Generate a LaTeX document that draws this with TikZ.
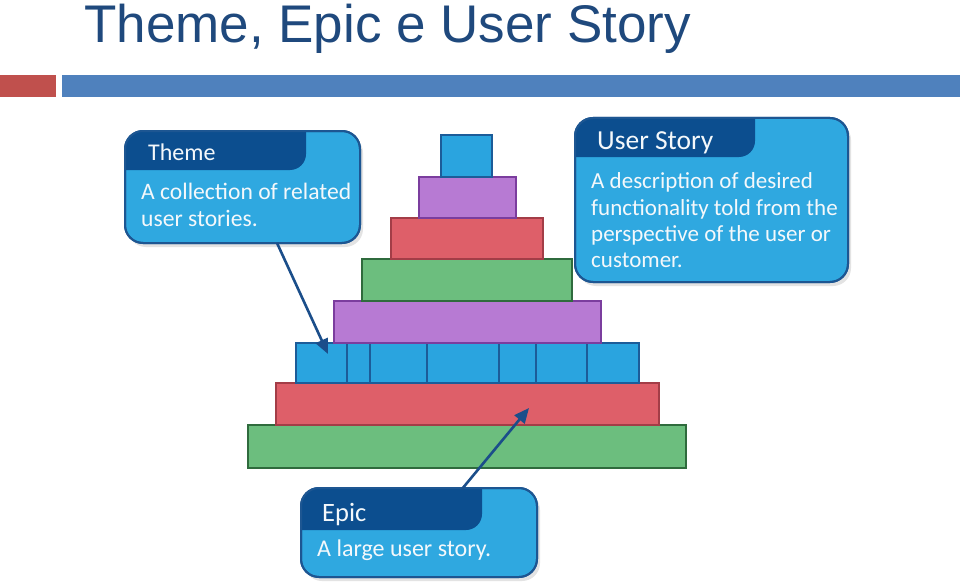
\documentclass[tikz,border=0pt]{standalone}
\usepackage{fontspec}
\setmainfont{Carlito}
\newfontfamily\titlefont{Liberation Sans}
\usetikzlibrary{arrows.meta}
\definecolor{titleblue}{HTML}{1F497D}
\definecolor{redsq}{HTML}{C0504D}
\definecolor{bluebar}{HTML}{4F81BD}
\definecolor{pblue}{HTML}{2AA4DF}
\definecolor{pblueD}{HTML}{1C5C99}
\definecolor{ppurple}{HTML}{B77AD3}
\definecolor{ppurpleD}{HTML}{7B3D9E}
\definecolor{pred}{HTML}{DE5F69}
\definecolor{predD}{HTML}{A33D47}
\definecolor{pgreen}{HTML}{6CBE7E}
\definecolor{pgreenD}{HTML}{2F6B3D}
\definecolor{cfill}{HTML}{2FA8E0}
\definecolor{cline}{HTML}{1D5692}
\definecolor{chd}{HTML}{0C4E8F}
\definecolor{ctext}{HTML}{F4F8FB}
\definecolor{arrc}{HTML}{1B4E8A}
\tikzset{
  cell/.style={draw, line width=1.6pt, inner sep=0pt, outer sep=0pt},
  sblue/.style={cell, fill=pblue, draw=pblueD},
  spurple/.style={cell, fill=ppurple, draw=ppurpleD},
  sred/.style={cell, fill=pred, draw=predD},
  sgreen/.style={cell, fill=pgreen, draw=pgreenD},
  cbox/.style={fill=cfill, draw=cline, line width=2pt, rounded corners=18pt, inner sep=0pt, outer sep=0pt},
  hdtext/.style={anchor=base west, inner sep=0pt, text=ctext},
  bodytext/.style={anchor=base west, inner sep=0pt, text=ctext, font=\fontsize{23}{26}\selectfont},
  arr/.style={draw=arrc, line width=2.6pt, -{Triangle[length=15pt,width=13pt]}},
}
\newcommand\pcell[6]{%
  \node[#6, minimum width={(#4)-(#2)}, minimum height={(#5)-(#3)}] (#1) at ({((#2)+(#4))/2},{((#3)+(#5))/2}) {};}
\newcommand\callout[7]{%
  \fill[gray, opacity=0.22, rounded corners=18pt] ({#2+3},{#3+4}) rectangle ({#4+3},{#5+4});
  \node[cbox, minimum width={(#4)-(#2)}, minimum height={(#5)-(#3)}] (#1) at ({((#2)+(#4))/2},{((#3)+(#5))/2}) {};
  \begin{scope}
    \clip[rounded corners=18pt] (#2,#3) rectangle (#4,#5);
    \fill[chd, rounded corners=16pt] ({#2-30},#7) -- ({#2-30},{#3-30}) -- (#6,{#3-30}) -- (#6,#7) -- cycle;
  \end{scope}
  \draw[draw=cline, line width=2pt, rounded corners=18pt] (#2,#3) rectangle (#4,#5);}
\begin{document}
\begin{tikzpicture}[x=1pt,y=-1pt]
\useasboundingbox (0,0) rectangle (960,583);
\fill[white] (0,0) rectangle (960,583);
% title and bars
\node[anchor=base west, inner sep=0pt, text=titleblue, font=\titlefont\fontsize{53}{60}\selectfont] (title) at (84,43) {Theme, Epic e User Story};
\node[fill=redsq, minimum width=56, minimum height=22, inner sep=0pt, anchor=north west] (redbar) at (0,75) {};
\node[fill=bluebar, minimum width=898, minimum height=22, inner sep=0pt, anchor=north west] (bluebar) at (62,75) {};
% pyramid
\pcell{L8}{248}{425}{686}{468}{sgreen}
\pcell{L7}{276}{383}{659}{425}{sred}
\pcell{B1}{296}{343}{347}{383}{sblue}
\pcell{B2}{347}{343}{370}{383}{sblue}
\pcell{B3}{370}{343}{427}{383}{sblue}
\pcell{B4}{427}{343}{499}{383}{sblue}
\pcell{B5}{499}{343}{536}{383}{sblue}
\pcell{B6}{536}{343}{587}{383}{sblue}
\pcell{B7}{587}{343}{639}{383}{sblue}
\pcell{L5}{334}{301}{601}{343}{spurple}
\pcell{L4}{362}{259}{572}{301}{sgreen}
\pcell{L3}{391}{218}{543}{259}{sred}
\pcell{L2}{419}{177}{516}{218}{spurple}
\pcell{L1}{441}{135}{492}{177}{sblue}
% callouts
\callout{themebox}{125}{131}{360}{243}{306}{170}
\node[hdtext, font=\fontsize{24}{27}\selectfont] (themeH) at (148,160) {Theme};
\node[bodytext, font=\fontsize{23.6}{26}\selectfont] (themeA) at (141,199) {A collection of related};
\node[bodytext, font=\fontsize{23.6}{26}\selectfont] (themeB) at (141,226) {user stories.};
\callout{storybox}{575}{118}{848}{282}{755}{157}
\node[hdtext, font=\fontsize{27.5}{30}\selectfont] (storyH) at (597,149) {User Story};
\node[bodytext] (storyA) at (591,188) {A description of desired};
\node[bodytext] (storyB) at (591,215) {functionality told from the};
\node[bodytext] (storyC) at (591,241) {perspective of the user or};
\node[bodytext] (storyD) at (591,267) {customer.};
\callout{epicbox}{301}{488}{537}{577}{482}{530}
\node[hdtext, font=\fontsize{26.5}{29}\selectfont] (epicH) at (322,521) {Epic};
\node[bodytext, font=\fontsize{24}{27}\selectfont] (epicA) at (317,556) {A large user story.};
% arrows
\coordinate (thS) at (277,243);
\coordinate (thT) at (328,354);
\coordinate (epS) at (462,489);
\coordinate (epT) at (529,408);
\draw[arr] (thS) -- (thT);
\draw[arr] (epS) -- (epT);
\end{tikzpicture}
\end{document}
